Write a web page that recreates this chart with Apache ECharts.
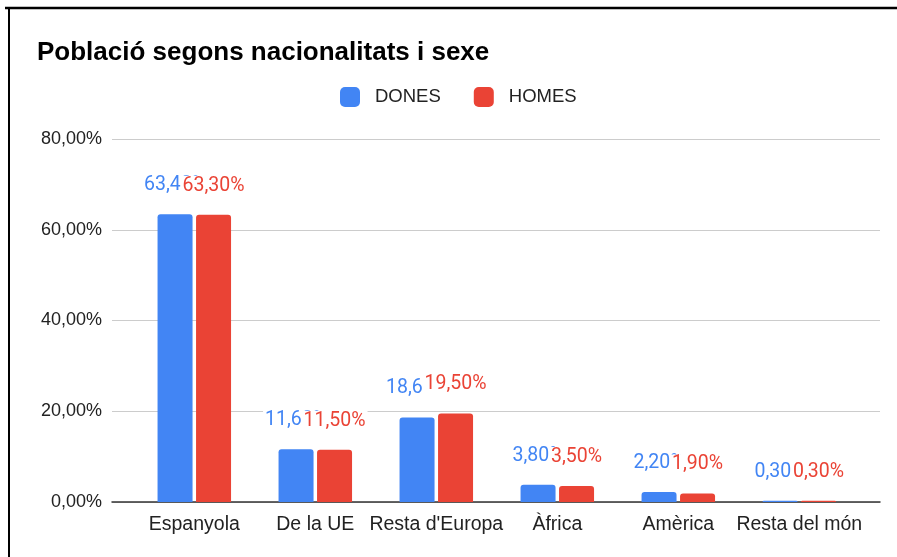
<!DOCTYPE html>
<html>
<head>
<meta charset="utf-8">
<script src="https://cdn.jsdelivr.net/npm/echarts@6/dist/echarts.min.js"></script>
<style>
html,body{margin:0;padding:0;background:#fff;}
#chart{width:897px;height:557px;}
</style>
</head>
<body>
<div id="chart"></div>
<script>
var categories = ['Espanyola', 'De la UE', "Resta d'Europa", 'Àfrica', 'Amèrica', 'Resta del món'];
var dones = [63.4, 11.6, 18.6, 3.8, 2.2, 0.3];
var homes = [63.3, 11.5, 19.5, 3.5, 1.9, 0.3];
var yTicks = [0, 20, 40, 60, 80];

function pct(v) { return v.toFixed(2).replace('.', ',') + '%'; }

var chart = echarts.init(document.getElementById('chart'), null, {renderer: 'canvas'});
var GRID_TOP = 139, GRID_BOTTOM = 55;
var labelFont = {fontFamily: 'Roboto', fontSize: 19.5};
chart.setOption({
  animation: false,
  backgroundColor: '#fff',
  title: {
    text: 'Població segons nacionalitats i sexe',
    left: 32, top: 35,
    textStyle: {fontFamily: 'Liberation Sans', fontWeight: 'bold', fontSize: 26, color: '#000'}
  },
  legend: {
    left: 335, top: 82,
    itemWidth: 20, itemHeight: 20, itemGap: 33,
    icon: 'roundRect',
    textStyle: {fontFamily: 'Liberation Sans', fontSize: 18.5, color: '#222', padding: [0, 0, 0, 10]},
    data: ['DONES', 'HOMES']
  },
  grid: [
    {left: 112, right: 17, top: GRID_TOP, bottom: GRID_BOTTOM},
    {left: 133.8, right: 37.2, top: GRID_TOP, bottom: GRID_BOTTOM}
  ],
  xAxis: [
    {type: 'value', gridIndex: 0, min: 0, max: 1,
     axisLine: {show: true, lineStyle: {color: '#333', width: 1.5}},
     axisTick: {show: false}, axisLabel: {show: false}, splitLine: {show: false}},
    {type: 'category', gridIndex: 1, data: categories,
     axisLine: {show: false}, axisTick: {show: false},
     axisLabel: {interval: 0, margin: 13, fontFamily: 'Liberation Sans', fontSize: 19.5, color: '#222'}}
  ],
  yAxis: [
    {type: 'value', gridIndex: 0, min: yTicks[0], max: yTicks[yTicks.length - 1], interval: 20,
     axisLine: {show: false}, axisTick: {show: false},
     axisLabel: {margin: 10, fontFamily: 'Liberation Sans', fontSize: 18, color: '#222', formatter: function (v) { return pct(v); }},
     splitLine: {show: true, lineStyle: {color: '#ccc', width: 1}}},
    {type: 'value', gridIndex: 1, min: 0, max: 80, show: false, splitLine: {show: false}}
  ],
  series: [
    {name: 'DONES', type: 'bar', xAxisIndex: 1, yAxisIndex: 1, data: dones,
     barWidth: 35, barGap: '10%',
     itemStyle: {color: '#4285F4', borderRadius: [3, 3, 0, 0]},
     label: Object.assign({show: true, position: 'top', distance: 19, color: '#4285F4',
       backgroundColor: '#fff', padding: [0, 2],
       formatter: function (p) { return pct(p.value); }}, labelFont)},
    {name: 'HOMES', type: 'bar', xAxisIndex: 1, yAxisIndex: 1, data: homes,
     barWidth: 35, barGap: '10%',
     itemStyle: {color: '#EA4335', borderRadius: [3, 3, 0, 0]},
     label: Object.assign({show: true, position: 'top', distance: 19, color: '#EA4335',
       backgroundColor: '#fff', padding: [0, 2],
       formatter: function (p) { return pct(p.value); }}, labelFont)}
  ],
  graphic: [
    {type: 'line', shape: {x1: 5, y1: 8, x2: 897, y2: 8}, style: {stroke: '#000', lineWidth: 2.5}, z: 100},
    {type: 'line', shape: {x1: 9, y1: 7, x2: 9, y2: 557}, style: {stroke: '#000', lineWidth: 2}, z: 100}
  ]
});
</script>
</body>
</html>
